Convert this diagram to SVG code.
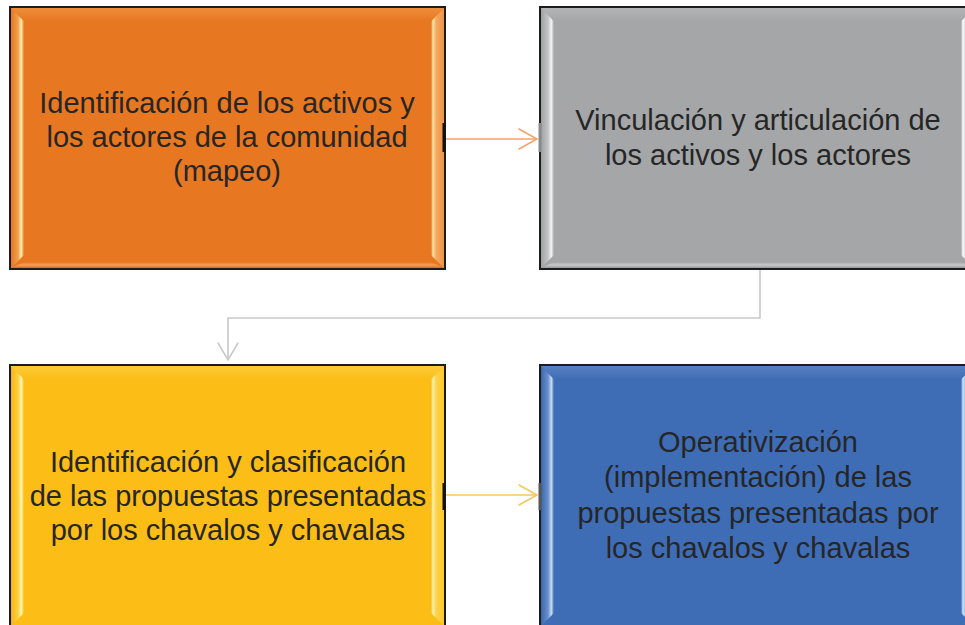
<svg xmlns="http://www.w3.org/2000/svg" width="965" height="625" viewBox="0 0 965 625">
<defs>
<style>
.lbl{font-family:"Liberation Sans",Arial,sans-serif;font-size:29px;fill:#262626;text-anchor:middle}
.border{stroke:#1c1c1c;stroke-width:2}
.conn{fill:none;stroke-width:1.6;stroke-linecap:round;stroke-linejoin:miter}
</style>
<!-- orange -->
<linearGradient id="oL" x1="0" y1="0" x2="1" y2="0"><stop offset="0" stop-color="#E67520"/><stop offset="0.55" stop-color="#F0A050"/><stop offset="0.8" stop-color="#FFF0B0"/><stop offset="1" stop-color="#E87722"/></linearGradient>
<linearGradient id="oR" x1="0" y1="0" x2="1" y2="0"><stop offset="0" stop-color="#E87722"/><stop offset="0.15" stop-color="#FFE6A8"/><stop offset="0.4" stop-color="#F6A860"/><stop offset="1" stop-color="#EE9448"/></linearGradient>
<linearGradient id="oT" x1="0" y1="0" x2="0" y2="1"><stop offset="0" stop-color="#EE8E3A"/><stop offset="1" stop-color="#E87722"/></linearGradient>
<linearGradient id="oB" x1="0" y1="0" x2="0" y2="1"><stop offset="0" stop-color="#E87722"/><stop offset="0.5" stop-color="#F2A060"/><stop offset="1" stop-color="#D86A1A"/></linearGradient>
<!-- gray -->
<linearGradient id="gL" x1="0" y1="0" x2="1" y2="0"><stop offset="0" stop-color="#A0A1A3"/><stop offset="0.55" stop-color="#C4C5C7"/><stop offset="0.8" stop-color="#F4F4F4"/><stop offset="1" stop-color="#A5A6A8"/></linearGradient>
<linearGradient id="gR" x1="0" y1="0" x2="1" y2="0"><stop offset="0" stop-color="#A5A6A8"/><stop offset="0.15" stop-color="#FFFFFF"/><stop offset="0.4" stop-color="#C6C7C9"/><stop offset="1" stop-color="#B8B9BB"/></linearGradient>
<linearGradient id="gT" x1="0" y1="0" x2="0" y2="1"><stop offset="0" stop-color="#B4B5B7"/><stop offset="1" stop-color="#A5A6A8"/></linearGradient>
<linearGradient id="gB" x1="0" y1="0" x2="0" y2="1"><stop offset="0" stop-color="#A5A6A8"/><stop offset="0.5" stop-color="#C8C9CB"/><stop offset="1" stop-color="#959698"/></linearGradient>
<!-- yellow -->
<linearGradient id="yL" x1="0" y1="0" x2="1" y2="0"><stop offset="0" stop-color="#F5B512"/><stop offset="0.55" stop-color="#FCD040"/><stop offset="0.8" stop-color="#FFF6B8"/><stop offset="1" stop-color="#FBBD16"/></linearGradient>
<linearGradient id="yR" x1="0" y1="0" x2="1" y2="0"><stop offset="0" stop-color="#FBBD16"/><stop offset="0.15" stop-color="#FFF2B0"/><stop offset="0.4" stop-color="#FDD24A"/><stop offset="1" stop-color="#FCC830"/></linearGradient>
<linearGradient id="yT" x1="0" y1="0" x2="0" y2="1"><stop offset="0" stop-color="#FCCB3A"/><stop offset="1" stop-color="#FBBD16"/></linearGradient>
<!-- blue -->
<linearGradient id="bL" x1="0" y1="0" x2="1" y2="0"><stop offset="0" stop-color="#3A66B0"/><stop offset="0.55" stop-color="#6A90CC"/><stop offset="0.8" stop-color="#C8DCF4"/><stop offset="1" stop-color="#3F6DB5"/></linearGradient>
<linearGradient id="bR" x1="0" y1="0" x2="1" y2="0"><stop offset="0" stop-color="#3F6DB5"/><stop offset="0.15" stop-color="#D4E6F8"/><stop offset="0.4" stop-color="#7FA6DA"/><stop offset="1" stop-color="#6E96D0"/></linearGradient>
<linearGradient id="bT" x1="0" y1="0" x2="0" y2="1"><stop offset="0" stop-color="#5880C2"/><stop offset="1" stop-color="#3F6DB5"/></linearGradient>
</defs>

<g id="connectors">
<g stroke="#F2A46E" class="conn">
<line x1="446" y1="139" x2="536" y2="139"/>
<polyline points="519,129 537,139 519,149"/>
</g>
<g stroke="#C9C9C9" class="conn">
<polyline points="760,270 760,318 228,318 228,359"/>
<polyline points="218,343 228,360 238,343"/>
</g>
<g stroke="#F9C85A" class="conn">
<line x1="446" y1="495" x2="536" y2="495"/>
<polyline points="519,485 537,495 519,505"/>
</g>
</g>

<g id="node-mapeo">
<rect x="10" y="7" width="435" height="262" fill="#E87722" class="border"/>
<polygon points="11,8 24,21 24,255 11,268" fill="url(#oL)"/>
<polygon points="444,8 431,21 431,255 444,268" fill="url(#oR)"/>
<polygon points="11,8 444,8 431,21 24,21" fill="url(#oT)"/>
<polygon points="11,268 444,268 431,262 24,262" fill="url(#oB)"/>
<rect x="10" y="7" width="435" height="262" fill="none" class="border"/>
<rect x="442.5" y="123" width="3" height="29" fill="#111"/>
<text class="lbl" x="227" y="113">Identificación de los activos y</text>
<text class="lbl" x="227" y="147">los actores de la comunidad</text>
<text class="lbl" x="227" y="181">(mapeo)</text>
</g>

<g id="node-vinculacion">
<rect x="540" y="7" width="435" height="262" fill="#A5A6A8" class="border"/>
<polygon points="541,8 554,21 554,255 541,268" fill="url(#gL)"/>
<polygon points="974,8 961,21 961,255 974,268" fill="url(#gR)"/>
<polygon points="541,8 974,8 961,21 554,21" fill="url(#gT)"/>
<polygon points="541,268 974,268 961,262 554,262" fill="url(#gB)"/>
<rect x="540" y="7" width="435" height="262" fill="none" class="border"/>
<rect x="538.5" y="123" width="3" height="29" fill="#8a8a8a"/>
<text class="lbl" x="758" y="130">Vinculación y articulación de</text>
<text class="lbl" x="758" y="165">los activos y los actores</text>
</g>

<g id="node-clasificacion">
<rect x="10" y="365" width="435" height="262" fill="#FBBD16" class="border"/>
<polygon points="11,366 24,379 24,613 11,626" fill="url(#yL)"/>
<polygon points="444,366 431,379 431,613 444,626" fill="url(#yR)"/>
<polygon points="11,366 444,366 431,379 24,379" fill="url(#yT)"/>
<rect x="10" y="365" width="435" height="262" fill="none" class="border"/>
<rect x="442.5" y="483" width="3" height="27" fill="#111"/>
<text class="lbl" x="228" y="472">Identificación y clasificación</text>
<text class="lbl" x="228" y="506">de las propuestas presentadas</text>
<text class="lbl" x="228" y="540">por los chavalos y chavalas</text>
</g>

<g id="node-operativizacion">
<rect x="540" y="365" width="435" height="262" fill="#3F6DB5" class="border"/>
<polygon points="541,366 554,379 554,613 541,626" fill="url(#bL)"/>
<polygon points="974,366 961,379 961,613 974,626" fill="url(#bR)"/>
<polygon points="541,366 974,366 961,379 554,379" fill="url(#bT)"/>
<rect x="540" y="365" width="435" height="262" fill="none" class="border"/>
<rect x="538.5" y="483" width="3" height="27" fill="#555"/>
<text class="lbl" x="758" y="452">Operativización</text>
<text class="lbl" x="758" y="487">(implementación) de las</text>
<text class="lbl" x="758" y="523">propuestas presentadas por</text>
<text class="lbl" x="758" y="558">los chavalos y chavalas</text>
</g>
</svg>
